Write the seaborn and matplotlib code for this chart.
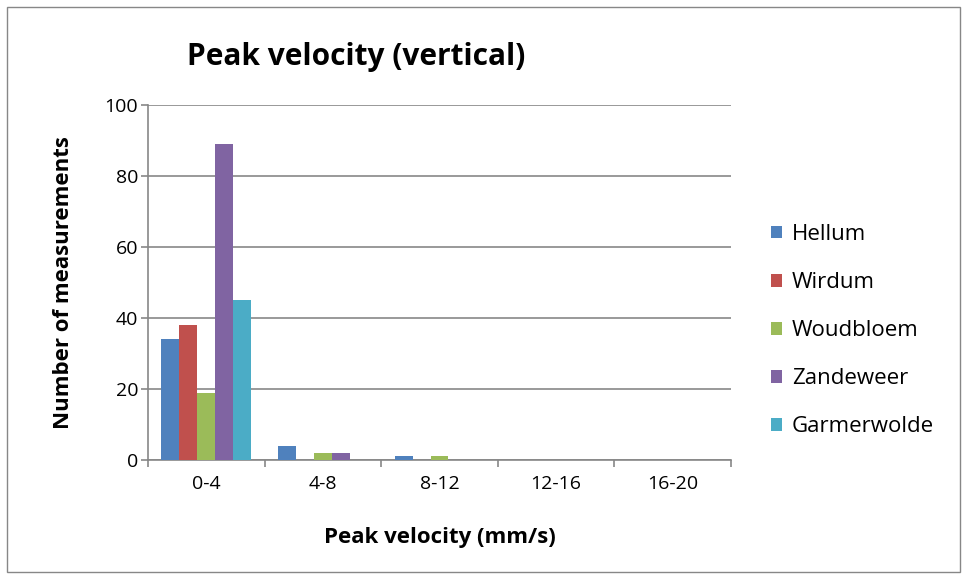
import matplotlib
matplotlib.use("Agg")
import matplotlib.pyplot as plt
import seaborn as sns
import pandas as pd
import numpy as np
from matplotlib.patches import Rectangle

categories = ["0-4", "4-8", "8-12", "12-16", "16-20"]
hellum = [34, 4, 1, 0, 0]
wirdum = [38, 0, 0, 0, 0]
woudbloem = [19, 2, 1, 0, 0]
zandeweer = [89, 2, 0, 0, 0]
garmerwolde = [45, 0, 0, 0, 0]
series_names = ["Hellum", "Wirdum", "Woudbloem", "Zandeweer", "Garmerwolde"]
colors = ["#4F81BD", "#C0504D", "#9BBB59", "#8064A2", "#4BACC6"]

rows = []
for name, vals in zip(series_names, [hellum, wirdum, woudbloem, zandeweer, garmerwolde]):
    for c, v in zip(categories, vals):
        rows.append({"cat": c, "series": name, "value": v})
df = pd.DataFrame(rows)

sns.set_theme(style="white")
plt.rcParams['font.family'] = ['Open Sans', 'DejaVu Sans']
plt.rcParams['text.color'] = 'black'
plt.rcParams['axes.labelcolor'] = 'black'
plt.rcParams['xtick.color'] = 'black'
plt.rcParams['ytick.color'] = 'black'

fig = plt.figure(figsize=(9.68, 5.79), dpi=100)
ax = fig.add_axes([148/968, 1-460/579, (731-148)/968, (460-105)/579])

sns.barplot(data=df, x="cat", y="value", hue="series", order=categories,
            hue_order=series_names, palette=colors, width=0.77, saturation=1,
            linewidth=0, edgecolor="none", ax=ax, legend=True, zorder=3)

ax.set_ylim(0, 100)
ax.set_xlim(-0.5, 4.5)
ax.set_yticks([0, 20, 40, 60, 80, 100])
ax.yaxis.grid(True, color="#878787", linewidth=1.2, zorder=0)
ax.set_axisbelow(True)
for s in ["top", "right"]:
    ax.spines[s].set_visible(False)
for s in ["left", "bottom"]:
    ax.spines[s].set_color("#878787")
    ax.spines[s].set_linewidth(1.2)

ax.tick_params(axis="y", which="major", length=5, width=1.2, color="#878787",
               labelcolor="black", labelsize=14, pad=2, left=True, direction="out")
ax.set_xticks(range(len(categories)))
ax.set_xticklabels(categories)
ax.tick_params(axis="x", which="major", length=0, labelsize=14, pad=11,
               labelcolor="black")
ax.set_xticks(np.arange(-0.5, 5, 1), minor=True)
ax.tick_params(axis="x", which="minor", length=5, width=1.2, color="#878787",
               bottom=True, direction="out")

ax.set_xlabel("Peak velocity (mm/s)", fontsize=16, fontweight="bold", labelpad=24,
              color="black")
ax.set_ylabel("Number of measurements", fontsize=16, fontweight="bold", labelpad=22,
              color="black")

leg = ax.legend(loc="upper left", bbox_to_anchor=(771/968, 1-224/579),
                bbox_transform=fig.transFigure, frameon=False, fontsize=16,
                handlelength=0.5, handleheight=0.5, handletextpad=0.45,
                labelspacing=1.22, borderaxespad=0, borderpad=0)
for t in leg.get_texts():
    t.set_color("black")

fig.text(356/968, 1-57/579, "Peak velocity (vertical)", ha="center", va="center",
         fontsize=21.5, fontweight="bold", color="black")

fig.patches.append(Rectangle((7/968, 7/579), 953/968, 565/579, transform=fig.transFigure,
                             fill=False, edgecolor="#878787", linewidth=1))

fig.savefig("out.png", dpi=100)
